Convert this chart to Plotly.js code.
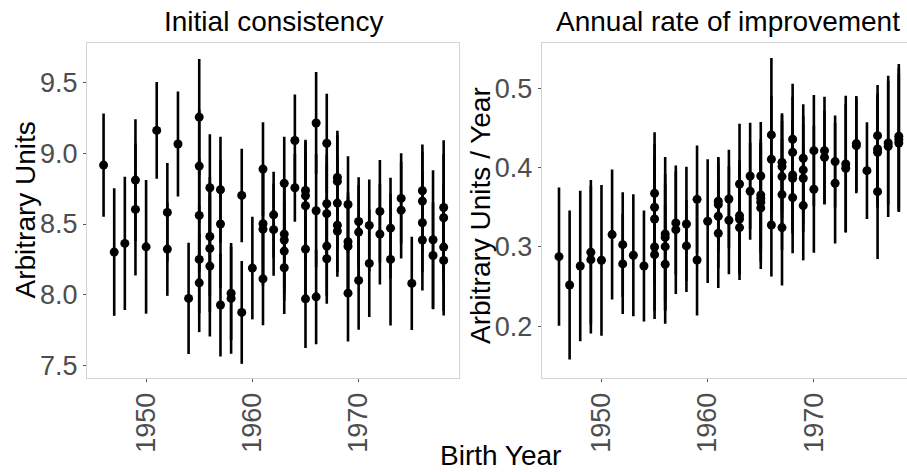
<!DOCTYPE html>
<html>
<head>
<meta charset="utf-8">
<script src="https://cdn.plot.ly/plotly-3.0.1.min.js"></script>
<style>html,body{margin:0;padding:0;background:#fff;}#chart{width:907px;height:472px;}</style>
</head>
<body>
<div id="chart"></div>
<script>
// Left panel: Initial consistency
const leftYears = [1946,1947,1948,1949,1949,1950,1951,1952,1952,1953,1954,
  1955,1955,1955,1955,1955,1956,1956,1956,1956,1957,1957,1957,1958,1958,1959,1959,1960,
  1961,1961,1961,1961,1962,1962,1963,1963,1963,1963,1963,1964,1964,
  1965,1965,1965,1965,1965,1966,1966,1966,1967,1967,1967,1967,1967,
  1968,1968,1968,1968,1968,1969,1969,1969,1969,1970,1970,1970,1971,1971,1972,1972,
  1973,1973,1974,1974,1975,1976,1976,1976,1976,1977,1977,1978,1978,1978,1978];
const leftValues = [8.916,8.302,8.363,8.810,8.603,8.339,9.161,8.582,8.323,9.065,7.975,
  9.255,8.909,8.561,8.250,8.085,8.756,8.412,8.328,8.203,8.742,8.500,7.928,8.012,7.975,8.702,7.876,8.189,
  8.888,8.502,8.464,8.113,8.565,8.460,8.787,8.429,8.387,8.309,8.191,9.090,8.756,
  8.737,8.700,8.629,8.323,7.972,9.213,8.594,7.986,9.070,8.643,8.573,8.344,8.255,
  8.829,8.801,8.648,8.491,8.450,8.638,8.375,8.342,8.012,8.518,8.443,8.102,8.490,8.222,8.589,8.429,
  8.471,8.250,8.681,8.598,8.081,8.735,8.662,8.509,8.387,8.389,8.278,8.617,8.544,8.337,8.243];
const leftErrors = [0.364,0.450,0.470,0.430,0.466,0.472,0.342,0.348,0.330,0.370,0.393,
  0.410,0.400,0.400,0.380,0.348,0.377,0.420,0.450,0.497,0.374,0.450,0.363,0.330,0.391,0.330,0.363,0.362,
  0.330,0.400,0.400,0.327,0.304,0.325,0.329,0.380,0.380,0.350,0.327,0.325,0.240,
  0.358,0.380,0.380,0.370,0.348,0.360,0.400,0.334,0.350,0.350,0.350,0.350,0.318,
  0.330,0.330,0.330,0.330,0.322,0.341,0.350,0.350,0.341,0.313,0.330,0.349,0.325,0.379,0.363,0.356,
  0.355,0.466,0.318,0.341,0.330,0.327,0.350,0.350,0.356,0.490,0.374,0.475,0.450,0.450,0.389];

// Right panel: Annual rate of improvement
const rightYears = [1946,1947,1948,1949,1949,1950,1951,1952,1952,1953,1954,
  1955,1955,1955,1955,1955,1956,1956,1956,1956,1957,1957,1958,1958,1959,1959,1960,
  1961,1961,1961,1961,1962,1962,1963,1963,1963,1963,1964,1964,
  1965,1965,1965,1965,1965,1966,1966,1966,1967,1967,1967,1967,1967,
  1968,1968,1968,1968,1968,1969,1969,1969,1969,1970,1970,1971,1971,1972,1972,
  1973,1973,1974,1974,1975,1976,1976,1976,1976,1977,1977,1978,1978,1978];
const rightValues = [0.2878,0.2521,0.2760,0.2933,0.2840,0.2832,0.3156,0.3029,0.2786,0.2895,0.2760,
  0.3676,0.3500,0.3353,0.3000,0.2903,0.3164,0.3120,0.3004,0.2782,0.3303,0.3218,0.3290,0.3013,0.3600,0.2836,0.3324,
  0.3576,0.3534,0.3387,0.3172,0.3605,0.3336,0.3794,0.3395,0.3353,0.3244,0.3895,0.3702,
  0.3895,0.3655,0.3613,0.3563,0.3492,0.4412,0.4105,0.3277,0.4067,0.4013,0.3887,0.3660,0.3244,
  0.4357,0.4193,0.3908,0.3866,0.3622,0.4118,0.3971,0.3866,0.3521,0.4214,0.3727,0.4214,0.4130,0.4076,0.3803,
  0.4046,0.3992,0.4303,0.4277,0.3962,0.4403,0.4235,0.4193,0.3697,0.4311,0.4269,0.4395,0.4353,0.4311];
const rightErrors = [0.087,0.094,0.095,0.091,0.093,0.095,0.082,0.066,0.063,0.077,0.070,
  0.077,0.080,0.080,0.080,0.081,0.097,0.080,0.080,0.075,0.065,0.081,0.072,0.058,0.068,0.070,0.078,
  0.055,0.060,0.065,0.069,0.062,0.068,0.076,0.070,0.070,0.066,0.067,0.061,
  0.068,0.070,0.070,0.075,0.077,0.097,0.080,0.065,0.062,0.065,0.070,0.070,0.073,
  0.070,0.070,0.070,0.070,0.070,0.068,0.068,0.068,0.069,0.070,0.080,0.068,0.059,0.058,0.076,
  0.086,0.081,0.060,0.060,0.061,0.064,0.070,0.070,0.085,0.078,0.089,0.091,0.090,0.087];

const tickYears = [1950, 1960, 1970];
const panelTitles = ["Initial consistency", "Annual rate of improvement"];
const yTitles = ["Arbitrary Units", "Arbitrary Units / Year"];
const xTitle = "Birth Year";

const FONT = '"Liberation Sans", Arial, sans-serif';

function trace(x, y, e, xa, ya) {
  return {
    type: 'scatter', mode: 'markers', x: x, y: y, xaxis: xa, yaxis: ya,
    marker: {color: 'black', size: 9},
    error_y: {type: 'data', array: e, visible: true, color: 'black', thickness: 2.6, width: 0},
    showlegend: false, hoverinfo: 'x+y'
  };
}

const data = [
  trace(leftYears, leftValues, leftErrors, 'x', 'y'),
  trace(rightYears, rightValues, rightErrors, 'x2', 'y2')
];

const axisCommon = {
  showgrid: false, zeroline: false, showline: true, mirror: true,
  linecolor: '#d4d4d4', linewidth: 1,
  ticks: 'outside', ticklen: 3, tickwidth: 1, tickcolor: '#555',
  tickfont: {family: FONT, size: 27, color: '#4d4d4d'}
};

const layout = {
  width: 907, height: 472,
  margin: {l: 87, r: 0, t: 43, b: 94, pad: 0},
  paper_bgcolor: 'white', plot_bgcolor: 'white',
  font: {family: FONT},
  xaxis: Object.assign({}, axisCommon, {domain: [0, 0.454], range: [1944.44, 1979.47],
    tickvals: tickYears, tickangle: -90, anchor: 'y'}),
  xaxis2: Object.assign({}, axisCommon, {domain: [0.5545, 1], range: [1944.37, 1978.77],
    tickvals: tickYears, tickangle: -90, anchor: 'y2'}),
  yaxis: Object.assign({}, axisCommon, {range: [7.413, 9.778], tick0: 7.5, dtick: 0.5,
    tickformat: '.1f', anchor: 'x'}),
  yaxis2: Object.assign({}, axisCommon, {range: [0.1348, 0.5571], tick0: 0.2, dtick: 0.1,
    tickformat: '.1f', anchor: 'x2'}),
  annotations: [
    {text: panelTitles[0], xref: 'paper', yref: 'paper', x: 0.2272, y: 1.0627,
     xanchor: 'center', yanchor: 'middle', showarrow: false, font: {family: FONT, size: 28, color: 'black'}},
    {text: panelTitles[1], xref: 'paper', yref: 'paper', x: 0.7813, y: 1.0627,
     xanchor: 'center', yanchor: 'middle', showarrow: false, font: {family: FONT, size: 28, color: 'black'}},
    {text: yTitles[0], xref: 'paper', yref: 'paper', x: -0.0756, y: 0.5, textangle: -90,
     xanchor: 'center', yanchor: 'middle', showarrow: false, font: {family: FONT, size: 28, color: 'black'}},
    {text: yTitles[1], xref: 'paper', yref: 'paper', x: 0.4805, y: 0.4836, textangle: -90,
     xanchor: 'center', yanchor: 'middle', showarrow: false, font: {family: FONT, size: 28, color: 'black'}},
    {text: xTitle, xref: 'paper', yref: 'paper', x: 0.5043, y: -0.2328,
     xanchor: 'center', yanchor: 'middle', showarrow: false, font: {family: FONT, size: 28, color: 'black'}}
  ]
};

Plotly.newPlot('chart', data, layout, {staticPlot: true, displayModeBar: false});
</script>
</body>
</html>
